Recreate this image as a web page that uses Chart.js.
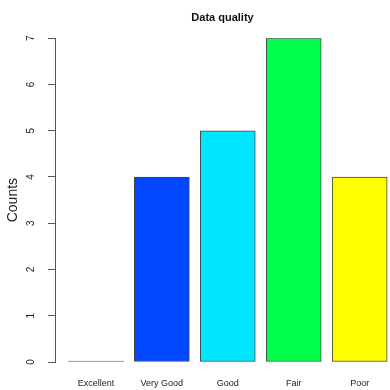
<!DOCTYPE html>
<html>
<head>
<meta charset="utf-8">
<script src="https://cdn.jsdelivr.net/npm/chart.js@4"></script>
<style>
html, body { margin: 0; padding: 0; background: #fff; }
#wrap { width: 390px; height: 390px; }
</style>
</head>
<body>
<div id="wrap"><canvas id="qualityChart"></canvas></div>
<script>
// data
const categories = ['Excellent', 'Very Good', 'Good', 'Fair', 'Poor'];
const counts = [0, 4, 5, 7, 4];
const barColors = ['#ff0000', '#0047ff', '#00e5ff', '#00ff4d', '#ffff00'];
const yMin = 0;
const yMax = 7;

const font = "'Liberation Sans', Arial, Helvetica, sans-serif";
Chart.defaults.font.family = font;
Chart.defaults.color = '#222';

const ctx = document.getElementById('qualityChart').getContext('2d');
const qualityChart = new Chart(ctx, {
    type: 'bar',
    data: {
        datasets: [{
            label: 'Counts',
            data: counts.map((c, i) => ({ x: i, y: c })),
            backgroundColor: barColors,
            borderColor: '#444',
            borderWidth: 1,
            borderSkipped: false,
            barThickness: 55,
            minBarLength: 1 // keeps the zero bar visible as a flat line
        }]
    },
    options: {
        responsive: true,
        maintainAspectRatio: false,
        animation: false,
        layout: {
            padding: 0
        },
        scales: {
            x: {
                type: 'linear',
                offset: false,
                min: -0.62,
                max: 4.46,
                grid: { display: false, drawTicks: false },
                border: { display: false },
                ticks: {
                    stepSize: 1,
                    includeBounds: false,
                    autoSkip: false,
                    maxRotation: 0,
                    padding: 16,
                    font: { size: 9 },
                    callback: function(v) {
                        return Number.isInteger(v) && categories[v] ? categories[v] : '';
                    }
                },
                afterFit: function(scale) {
                    scale.paddingLeft = 0;
                    scale.paddingRight = 0;
                    scale.height = 28; // plot bottom at y=362
                }
            },
            y: {
                min: yMin,
                max: yMax,
                grid: {
                    display: true,
                    drawOnChartArea: false,
                    drawTicks: true,
                    tickLength: 7,
                    color: '#555'
                },
                border: { display: true, color: '#555' },
                ticks: {
                    stepSize: 1,
                    minRotation: 90,
                    maxRotation: 90,
                    crossAlign: 'center',
                    padding: 14,
                    font: { size: 10 }
                },
                title: {
                    display: true,
                    text: 'Counts',
                    font: { size: 14 },
                    padding: { top: 5, bottom: 0 }
                },
                afterFit: function(scale) {
                    scale.width = 55; // axis line sits at x=55 like the original
                    scale.paddingTop = 0;
                    scale.paddingBottom = 0;
                }
            }
        },
        plugins: {
            legend: { display: false },
            tooltip: { enabled: false },
            title: {
                display: true,
                text: 'Data quality',
                fullSize: false,
                color: '#111',
                font: { size: 11, weight: 'bold' },
                padding: { top: 11, bottom: 14 }
            }
        }
    }
});
</script>
</body>
</html>
